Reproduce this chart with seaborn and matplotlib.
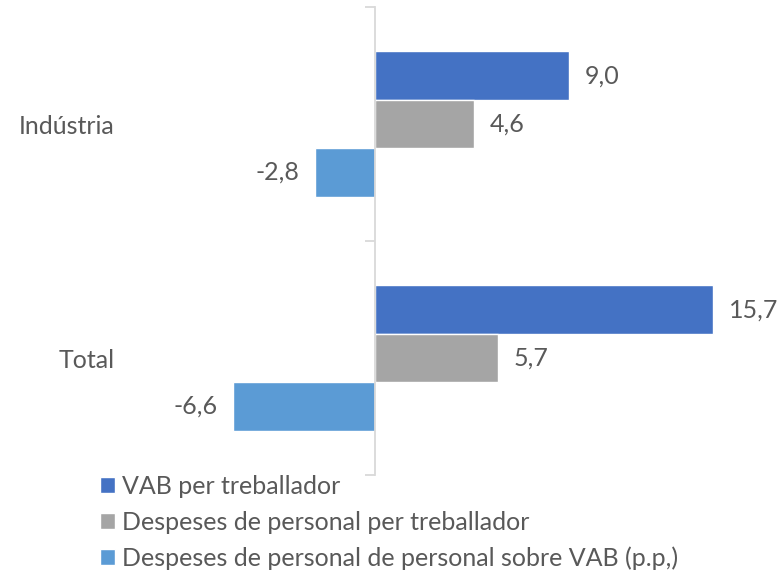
import matplotlib
matplotlib.use("Agg")
import matplotlib.pyplot as plt
import matplotlib.transforms as mtransforms
import seaborn as sns
import pandas as pd

categories = ["Indústria", "Total"]
series = ["VAB per treballador",
          "Despeses de personal per treballador",
          "Despeses de personal de personal sobre VAB (p.p,)"]
vab = [9.0, 15.7]
despeses = [4.6, 5.7]
despeses_vab = [-2.8, -6.6]
colors = ["#4472C4", "#A5A5A5", "#5B9BD5"]

rows = []
for s, vals in zip(series, [vab, despeses, despeses_vab]):
    for c, v in zip(categories, vals):
        rows.append({"cat": c, "series": s, "value": v})
df = pd.DataFrame(rows)

sns.set_theme(style="white")
plt.rcParams["font.family"] = ["Lato", "DejaVu Sans"]
text_color = "#595959"
FS = 18

W, H = 778, 571
fig = plt.figure(figsize=(W / 100, H / 100), dpi=100)
left_px, right_px, top_px, bot_px = 130, 770, 7, 475
ax = fig.add_axes([left_px / W, 1 - bot_px / H, (right_px - left_px) / W, (bot_px - top_px) / H])

sns.barplot(data=df, y="cat", x="value", hue="series", orient="h",
            palette=colors, width=0.62, ax=ax, legend=True, saturation=1)

scale = (569 - 375) / 9.0
ax.set_xlim(-(375 - left_px) / scale, (right_px - 375) / scale)
ax.set_ylim(1.5, -0.5)

for sp in ["top", "right", "bottom"]:
    ax.spines[sp].set_visible(False)
ax.spines["left"].set_position(("data", 0))
ax.spines["left"].set_color("#D9D9D9")
ax.spines["left"].set_linewidth(1.3)
ax.set_yticks([-0.5, 0.5, 1.5])
ax.set_yticklabels([])
ax.tick_params(axis="y", left=True, length=7, width=1.3, color="#D9D9D9")
ax.set_xticks([])
ax.set_xlabel("")
ax.set_ylabel("")

for cont in ax.containers:
    labels = [f"{v:.1f}".replace(".", ",") for v in cont.datavalues]
    ax.bar_label(cont, labels=labels, padding=11, fontsize=FS, color=text_color)

trans = mtransforms.blended_transform_factory(fig.transFigure, ax.transData)
for i, c in enumerate(categories):
    fig.text(115 / W, i + 0.01, c, transform=trans, ha="right", va="center",
             fontsize=FS, color=text_color)

handles, labs = ax.get_legend_handles_labels()
ax.get_legend().remove()
fig.legend(handles, labs, loc="upper left", bbox_to_anchor=(100 / W, 1 - 475 / H),
           frameon=False, fontsize=FS, labelcolor=text_color,
           handlelength=0.6, handleheight=0.6, handletextpad=0.3,
           labelspacing=0.5, borderaxespad=0, borderpad=0)

fig.savefig("out.png", dpi=100)
